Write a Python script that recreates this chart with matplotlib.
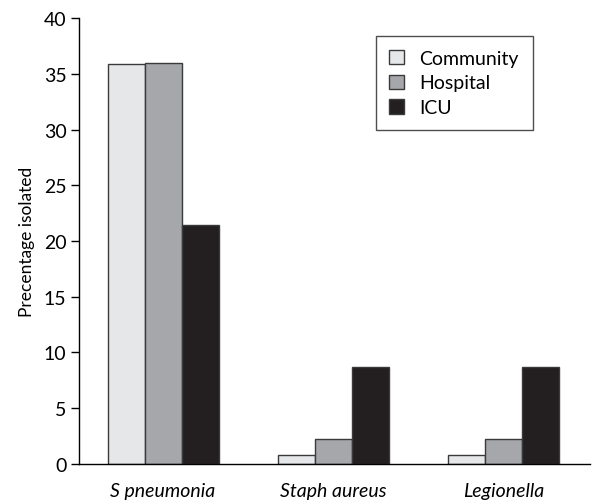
import numpy as np
import matplotlib
matplotlib.use("Agg")
import matplotlib.pyplot as plt

plt.rcParams['font.family'] = ['Lato', 'DejaVu Sans']

organisms = ["S pneumonia", "Staph aureus", "Legionella"]
community = [35.85, 0.8, 0.8]
hospital = [36.0, 2.2, 2.2]
icu = [21.4, 8.7, 8.7]

series = [("Community", community, "#e6e7e9"),
          ("Hospital", hospital, "#a6a7aa"),
          ("ICU", icu, "#231f20")]

fig = plt.figure(figsize=(6.05, 5.02), dpi=100)
ax = fig.add_axes([0.1306, 0.0743, 0.8444, 0.8873])

x = np.arange(len(organisms))
w = 0.217
for i, (name, vals, col) in enumerate(series):
    ax.bar(x + (i - 1) * w, vals, w, color=col, edgecolor="#3a3a3a",
           linewidth=1.0, label=name)

ax.set_xlim(-0.493, 2.504)
ax.set_ylim(0, 40)
ax.set_yticks(range(0, 41, 5))
ax.set_xticks(x)
ax.set_xticklabels(organisms, fontstyle="italic", fontsize=14)
ax.tick_params(axis="x", length=0, pad=13)
ax.tick_params(axis="y", length=6, width=1, labelsize=14, pad=3)
ax.set_ylabel("Precentage isolated", fontsize=12.5, labelpad=6)

for s in ["top", "right"]:
    ax.spines[s].set_visible(False)
for s in ["left", "bottom"]:
    ax.spines[s].set_linewidth(1.0)

leg = ax.legend(loc="upper left", bbox_to_anchor=(0.581, 0.96), borderaxespad=0,
                fontsize=14, fancybox=False, frameon=True, handlelength=0.75,
                handleheight=0.75, handletextpad=0.8, borderpad=0.7, labelspacing=0.4)
leg.get_frame().set_edgecolor("#222222")
leg.get_frame().set_linewidth(1.0)

fig.savefig("out.png", dpi=100)
